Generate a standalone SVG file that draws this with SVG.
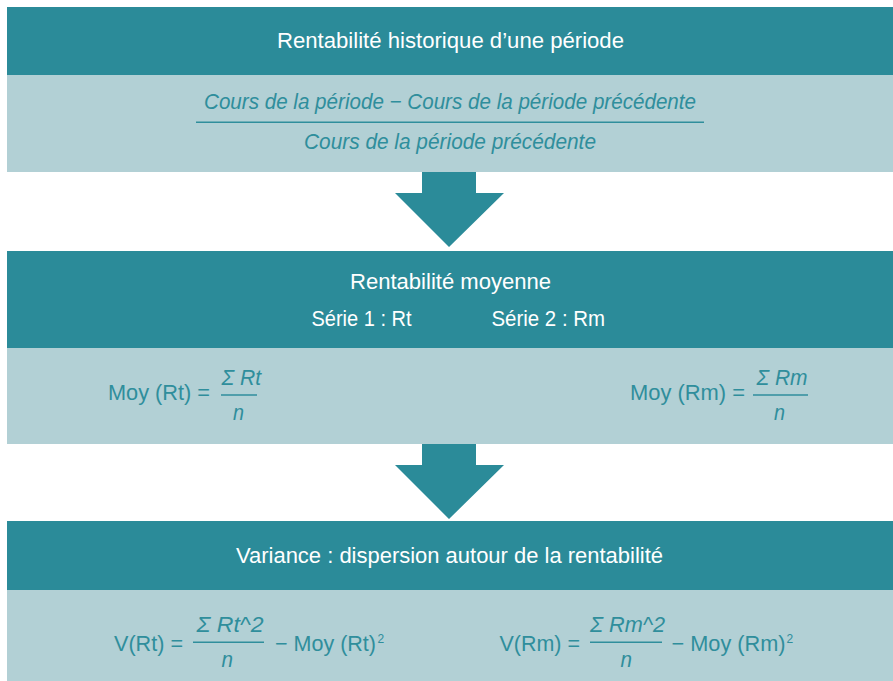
<svg xmlns="http://www.w3.org/2000/svg" width="893" height="681" viewBox="0 0 893 681">
<style>
.hd{fill:#2b8b99}
.pn{fill:#b2d0d5}
.ar{fill:#2b8b99}
text{font-family:"Liberation Sans",Arial,sans-serif}
.ht{font-size:22px;fill:#ffffff}
.pt{font-size:22px;fill:#2f8e9c}
.it{font-style:italic}
.sup{font-size:12px;fill:#2f8e9c}
.fl{stroke:#2f8e9c;stroke-width:1.5}
</style>
<rect width="893" height="681" fill="#ffffff"/>
<g id="box1">
<rect class="hd" x="7" y="7" width="886" height="68"/>
<rect class="pn" x="7" y="75" width="886" height="97"/>
<text class="ht" x="277" y="48" textLength="347" lengthAdjust="spacingAndGlyphs">Rentabilité historique d’une période</text>
<text class="pt it" x="204" y="109" textLength="492" lengthAdjust="spacingAndGlyphs">Cours de la période − Cours de la période précédente</text>
<line class="fl" x1="196" y1="122.3" x2="704" y2="122.3"/>
<text class="pt it" x="304" y="149" textLength="292" lengthAdjust="spacingAndGlyphs">Cours de la période précédente</text>
</g>
<g id="box2">
<rect class="hd" x="7" y="251" width="886" height="97"/>
<rect class="pn" x="7" y="348" width="886" height="96"/>
<text class="ht" x="350" y="288.5" textLength="201" lengthAdjust="spacingAndGlyphs">Rentabilité moyenne</text>
<text class="ht" x="311.5" y="326" textLength="100" lengthAdjust="spacingAndGlyphs">Série 1 : Rt</text>
<text class="ht" x="491.5" y="326" textLength="113.5" lengthAdjust="spacingAndGlyphs">Série 2 : Rm</text>
<text class="pt" x="108" y="400" textLength="102" lengthAdjust="spacingAndGlyphs">Moy (Rt) =</text>
<text class="pt it" x="221.5" y="385" textLength="39.5" lengthAdjust="spacingAndGlyphs">Σ Rt</text>
<line class="fl" x1="221" y1="395" x2="257" y2="395"/>
<text class="pt it" x="233" y="420" textLength="11" lengthAdjust="spacingAndGlyphs">n</text>
<text class="pt" x="630" y="400" textLength="115" lengthAdjust="spacingAndGlyphs">Moy (Rm) =</text>
<text class="pt it" x="756.5" y="385" textLength="51" lengthAdjust="spacingAndGlyphs">Σ Rm</text>
<line class="fl" x1="753" y1="395" x2="808" y2="395"/>
<text class="pt it" x="774" y="420" textLength="11" lengthAdjust="spacingAndGlyphs">n</text>
</g>
<g id="box3">
<rect class="hd" x="7" y="521" width="886" height="69"/>
<rect class="pn" x="7" y="590" width="886" height="91"/>
<text class="ht" x="236" y="563" textLength="427" lengthAdjust="spacingAndGlyphs">Variance : dispersion autour de la rentabilité</text>
<text class="pt" x="114" y="651" textLength="69" lengthAdjust="spacingAndGlyphs">V(Rt) =</text>
<text class="pt it" x="196.5" y="632" textLength="67" lengthAdjust="spacingAndGlyphs">Σ Rt^2</text>
<line class="fl" x1="193" y1="642.3" x2="264" y2="642.3"/>
<text class="pt it" x="221.5" y="667" textLength="11.5" lengthAdjust="spacingAndGlyphs">n</text>
<text class="pt" x="275" y="651" textLength="101" lengthAdjust="spacingAndGlyphs">− Moy (Rt)</text>
<text class="sup" x="377.5" y="642.5">2</text>
<text class="pt" x="499.5" y="651" textLength="80.5" lengthAdjust="spacingAndGlyphs">V(Rm) =</text>
<text class="pt it" x="590" y="632" textLength="75" lengthAdjust="spacingAndGlyphs">Σ Rm^2</text>
<line class="fl" x1="590" y1="642.3" x2="662" y2="642.3"/>
<text class="pt it" x="620.5" y="667" textLength="11.5" lengthAdjust="spacingAndGlyphs">n</text>
<text class="pt" x="671.5" y="651" textLength="114" lengthAdjust="spacingAndGlyphs">− Moy (Rm)</text>
<text class="sup" x="786.5" y="642.5">2</text>
</g>
<g id="connectors">
<polygon class="ar" points="422,172 476,172 476,193 504,193 449,247 395,193 422,193"/>
<polygon class="ar" points="422,444 476,444 476,465 504,465 449,519 395,465 422,465"/>
</g>
</svg>
